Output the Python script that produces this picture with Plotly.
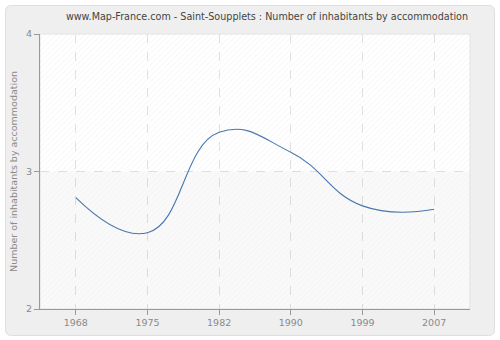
import plotly.graph_objects as go

# Census years and average number of inhabitants per accommodation
years = ["1968", "1975", "1982", "1990", "1999", "2007"]
inhabitants = [2.81, 2.555, 3.285, 3.14, 2.75, 2.725]

y_ticks = [2, 3, 4]

W, H = 500, 340
ML, MR, MT, MB = 40, 30, 34, 31
PW, PH = W - ML - MR, H - MT - MB

FONT = "DejaVu Sans"
GREY_TXT = "#8a8a8a"


def px_to_paper(x, y):
    return (x - ML) / PW, (H - MB - y) / PH


def rounded_rect_path(x0, y0, x1, y1, r):
    def p(x, y):
        px, py = px_to_paper(x, y)
        return f"{px:.5f},{py:.5f}"
    return (
        f"M {p(x0 + r, y0)} L {p(x1 - r, y0)} Q {p(x1, y0)} {p(x1, y0 + r)} "
        f"L {p(x1, y1 - r)} Q {p(x1, y1)} {p(x1 - r, y1)} "
        f"L {p(x0 + r, y1)} Q {p(x0, y1)} {p(x0, y1 - r)} "
        f"L {p(x0, y0 + r)} Q {p(x0, y0)} {p(x0 + r, y0)} Z"
    )


fig = go.Figure()

# hatched backdrop of the plotting area (upper and lower halves)
fig.add_trace(go.Scatter(
    x=[0, 1, 1, 0, 0], y=[0.5, 0.5, 1, 1, 0.5],
    xaxis="x2", yaxis="y2", mode="none", fill="toself",
    fillcolor="rgba(0,0,0,0)",
    fillpattern=dict(shape="/", fgcolor="rgba(0,0,0,0.10)", bgcolor="rgba(0,0,0,0)",
                     size=4, solidity=0.2),
    hoverinfo="skip", showlegend=False,
))
fig.add_trace(go.Scatter(
    x=[0, 1, 1, 0, 0], y=[0, 0, 0.5, 0.5, 0],
    xaxis="x2", yaxis="y2", mode="none", fill="toself",
    fillcolor="rgba(0,0,0,0)",
    fillpattern=dict(shape="/", fgcolor="rgba(0,0,0,0.045)", bgcolor="rgba(0,0,0,0.022)",
                     size=4, solidity=0.2),
    hoverinfo="skip", showlegend=False,
))

fig.add_trace(go.Scatter(
    x=years, y=inhabitants, mode="lines",
    line=dict(color="#4a78b0", width=1.1, shape="spline", smoothing=1.3),
    showlegend=False,
))

fig.update_layout(
    width=W, height=H,
    margin=dict(l=ML, r=MR, t=MT, b=MB, autoexpand=False),
    paper_bgcolor="white",
    plot_bgcolor="white",
    font=dict(family=FONT, color=GREY_TXT, size=9.5),
    title=dict(
        text="www.Map-France.com - Saint-Soupplets : Number of inhabitants by accommodation",
        x=0.534, xanchor="center", y=1 - 17 / H, yanchor="middle",
        font=dict(family=FONT, size=9.6, color="#444444"),
    ),
    xaxis=dict(
        type="category", range=[-0.5, 5.5], automargin=False,
        showgrid=True, gridcolor="#e2e2e2", griddash="dash", gridwidth=1,
        showline=True, linecolor="#999999", linewidth=1,
        ticks="outside", ticklen=5, tickcolor="#999999",
        tickfont=dict(size=9.5, color=GREY_TXT),
        mirror=False, zeroline=False, fixedrange=True,
    ),
    yaxis=dict(
        range=[2, 4], tickvals=y_ticks, ticktext=[str(v) for v in y_ticks],
        automargin=False,
        showgrid=True, gridcolor="#e2e2e2", griddash="dash", gridwidth=1,
        showline=True, linecolor="#999999", linewidth=1,
        ticks="outside", ticklen=5, tickcolor="#999999",
        tickfont=dict(size=9.5, color=GREY_TXT),
        title=dict(text="Number of inhabitants by accommodation",
                   font=dict(size=9.5, color=GREY_TXT), standoff=6),
        zeroline=False, fixedrange=True,
    ),
    xaxis2=dict(overlaying="x", range=[0, 1], visible=False, fixedrange=True),
    yaxis2=dict(overlaying="y", range=[0, 1], visible=False, fixedrange=True),
    shapes=[
        dict(type="path", xref="paper", yref="paper", layer="below",
             path=rounded_rect_path(5.5, 5.5, 494.5, 335.5, 6),
             fillcolor="#efefef", line=dict(color="#dedede", width=1)),
        dict(type="rect", xref="paper", yref="paper", layer="below",
             x0=0, y0=0, x1=1, y1=1, fillcolor="white",
             line=dict(color="#e4e4e4", width=1)),
    ],
)

fig.write_html("out.html")
